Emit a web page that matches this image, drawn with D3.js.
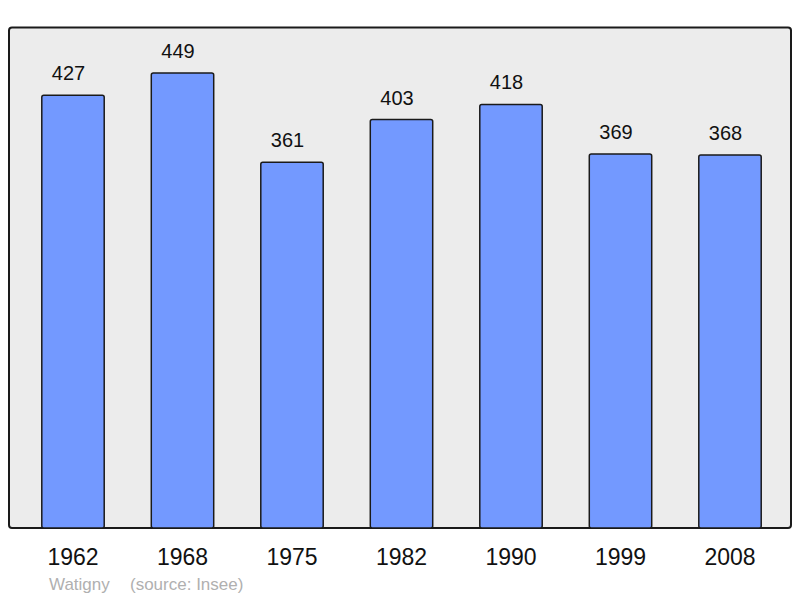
<!DOCTYPE html>
<html><head><meta charset="utf-8">
<script src="https://cdn.jsdelivr.net/npm/d3@7"></script>
<style>body{margin:0;background:#fff}svg{display:block}</style>
</head><body>
<script>
const years = ["1962","1968","1975","1982","1990","1999","2008"];
const population = [427,449,361,403,418,369,368];
const footerName = "Watigny";
const footerSource = "(source: Insee)";

const W = 800, H = 598;
const frame = {x0: 9, x1: 791, y0: 27.5, y1: 528};
const svg = d3.select("body").append("svg").attr("width", W).attr("height", H);

svg.append("rect").attr("x", frame.x0).attr("y", frame.y0)
  .attr("width", frame.x1 - frame.x0).attr("height", frame.y1 - frame.y0)
  .attr("rx", 3).attr("fill", "#ececec").attr("stroke", "#1a1a1a").attr("stroke-width", 2);

const x = d3.scaleBand().domain(years).range([18.25, 784.75])
  .paddingInner(0.43).paddingOuter(0.215);
const y = d3.scaleLinear().domain([0, d3.max(population) * 1.1]).range([frame.y1, frame.y0]);

const data = years.map((yr, i) => ({yr, v: population[i]}));

svg.append("g").selectAll("rect").data(data).join("rect")
  .attr("x", d => x(d.yr)).attr("y", d => y(d.v))
  .attr("width", x.bandwidth()).attr("height", d => frame.y1 - y(d.v))
  .attr("rx", 2).attr("fill", "#7399ff").attr("stroke", "#1a1a1a").attr("stroke-width", 1.5);

svg.append("g").selectAll("text").data(data).join("text")
  .attr("x", d => x(d.yr) + x.bandwidth() / 2 - 4.5).attr("y", d => y(d.v) - 15)
  .attr("text-anchor", "middle").attr("font-family", "Liberation Sans, Arial, sans-serif")
  .attr("font-size", 20).attr("fill", "#111").text(d => d.v);

const xAxis = svg.append("g").attr("transform", `translate(0,${frame.y1})`)
  .call(d3.axisBottom(x).tickSize(0).tickPadding(37));
xAxis.select(".domain").remove();
xAxis.selectAll("text").attr("dy", "0").attr("font-family", "Liberation Sans, Arial, sans-serif")
  .attr("font-size", 23).attr("fill", "#111");

svg.append("text").attr("x", 49).attr("y", 590).attr("font-family", "Liberation Sans, Arial, sans-serif")
  .attr("font-size", 17).attr("fill", "#b0b0b0").text(footerName);
svg.append("text").attr("x", 130).attr("y", 590).attr("font-family", "Liberation Sans, Arial, sans-serif")
  .attr("font-size", 17).attr("fill", "#b0b0b0").text(footerSource);
</script>
</body></html>
